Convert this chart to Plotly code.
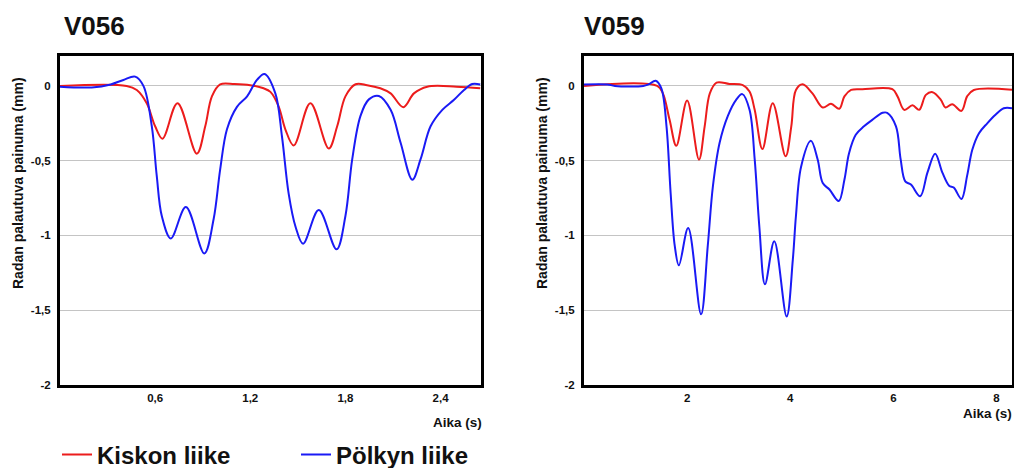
import plotly.graph_objects as go

# ---------------- data ----------------
# V056 (left panel)
v056_kisko_t = [0, 0.42, 0.484, 0.547, 0.60, 0.646, 0.741, 0.863, 0.916, 0.958, 1.01, 1.10, 1.20,
                1.284, 1.327, 1.379, 1.421, 1.474, 1.579, 1.695, 1.748, 1.80, 1.864, 1.937, 2.02,
                2.085, 2.165, 2.232, 2.316, 2.50, 2.65]
v056_kisko_y = [0, 0, -0.027, -0.116, -0.27, -0.353, -0.116, -0.453, -0.27, -0.07, 0.01, 0.012, 0.005,
                -0.016, -0.04, -0.138, -0.29, -0.398, -0.116, -0.418, -0.27, -0.07, 0.011, 0.005, -0.016,
                -0.05, -0.142, -0.05, -0.005, -0.005, -0.016]

v056_polkky_t = [0, 0.2, 0.32, 0.40, 0.474, 0.526, 0.579, 0.61, 0.642, 0.699, 0.794, 0.91, 0.969,
                 1.01, 1.053, 1.116, 1.18, 1.242, 1.29, 1.358, 1.40, 1.442, 1.485, 1.533, 1.632,
                 1.744, 1.80, 1.843, 1.895, 1.948, 2.011, 2.085, 2.148, 2.222, 2.274, 2.337, 2.411,
                 2.485, 2.548, 2.60, 2.65]
v056_polkky_y = [-0.005, -0.01, 0.01, 0.04, 0.062, 0.0, -0.27, -0.60, -0.87, -1.02, -0.81, -1.12, -0.89,
                 -0.56, -0.29, -0.14, -0.07, 0.04, 0.08, -0.05, -0.34, -0.72, -0.94, -1.055, -0.83,
                 -1.093, -0.87, -0.49, -0.20, -0.09, -0.067, -0.16, -0.38, -0.627, -0.49, -0.27, -0.16,
                 -0.093, -0.027, 0.013, 0.01]

# V059 (right panel)
v059_kisko_t = [0, 1.42, 1.53, 1.66, 1.79, 2.00, 2.23, 2.34, 2.44, 2.57, 2.82, 3.08, 3.21, 3.31, 3.46,
                3.66, 3.91, 4.02, 4.11, 4.24, 4.43, 4.63, 4.79, 4.95, 5.05, 5.18, 5.40, 5.98, 6.08,
                6.21, 6.37, 6.50, 6.63, 6.76, 6.92, 7.01, 7.14, 7.32, 7.43, 7.56, 8.30]
v059_kisko_y = [0, 0, -0.05, -0.227, -0.40, -0.098, -0.493, -0.27, -0.05, 0.022, 0.013, 0.005, -0.038,
                -0.16, -0.422, -0.116, -0.471, -0.27, -0.027, 0.011, -0.05, -0.144, -0.12, -0.153,
                -0.07, -0.027, -0.022, -0.022, -0.07, -0.16, -0.13, -0.16, -0.06, -0.042, -0.093,
                -0.144, -0.122, -0.167, -0.07, -0.027, -0.025]

v059_polkky_t = [0, 0.45, 0.6, 1.15, 1.25, 1.39, 1.50, 1.60, 1.68, 1.76, 1.84, 2.02, 2.27, 2.40, 2.50,
                 2.63, 2.79, 2.95, 3.07, 3.21, 3.31, 3.40, 3.51, 3.69, 3.93, 4.05, 4.11, 4.21, 4.40,
                 4.53, 4.63, 4.76, 4.94, 5.05, 5.14, 5.27, 5.43, 5.59, 5.79, 5.88, 6.05, 6.14, 6.23,
                 6.34, 6.52, 6.66, 6.81, 6.95, 7.08, 7.17, 7.32, 7.43, 7.53, 7.66, 7.82, 7.98, 8.14, 8.30]
v059_polkky_y = [0.01, 0.01, 0.0, 0.0, 0.01, 0.035, -0.016, -0.27, -0.716, -1.07, -1.20, -0.95, -1.527,
                 -1.07, -0.67, -0.38, -0.20, -0.093, -0.055, -0.16, -0.49, -0.94, -1.327, -1.038,
                 -1.542, -1.16, -0.87, -0.54, -0.367, -0.49, -0.65, -0.693, -0.77, -0.627, -0.45,
                 -0.327, -0.27, -0.227, -0.18, -0.18, -0.27, -0.49, -0.638, -0.66, -0.738, -0.58,
                 -0.453, -0.58, -0.667, -0.68, -0.756, -0.60, -0.427, -0.316, -0.25, -0.193, -0.149,
                 -0.149]

series_names = ["Kiskon liike", "Pölkyn liike"]
panel_titles = ["V056", "V059"]
y_axis_title = "Radan palautuva painuma (mm)"
x_axis_title = "Aika (s)"

y_tickvals = [0, -0.5, -1, -1.5, -2]
y_ticktext = ["0", "-0,5", "-1", "-1,5", "-2"]
x1_tickvals = [0.6, 1.2, 1.8, 2.4]
x1_ticktext = ["0,6", "1,2", "1,8", "2,4"]
x2_tickvals = [2, 4, 6, 8]
x2_ticktext = ["2", "4", "6", "8"]

# ---------------- layout helpers ----------------
W, H = 1014, 468
RED = "#ec1c1c"
BLUE = "#1a1af5"
FONT = "Liberation Sans, Arial, sans-serif"


def px_x(p):
    return p / W


def px_y(p):
    return 1 - p / H


fig = go.Figure()

line_kw = dict(mode="lines", line_shape="spline", hoverinfo="skip")

fig.add_trace(go.Scatter(x=v056_kisko_t, y=v056_kisko_y, name=series_names[0],
                         line=dict(color=RED, width=2, smoothing=1.0), xaxis="x", yaxis="y",
                         legend="legend", showlegend=True, **line_kw))
fig.add_trace(go.Scatter(x=v056_polkky_t, y=v056_polkky_y, name=series_names[1],
                         line=dict(color=BLUE, width=2, smoothing=1.0), xaxis="x", yaxis="y",
                         legend="legend2", showlegend=True, **line_kw))
fig.add_trace(go.Scatter(x=v059_kisko_t, y=v059_kisko_y, name=series_names[0],
                         line=dict(color=RED, width=2, smoothing=1.0), xaxis="x2", yaxis="y2",
                         showlegend=False, **line_kw))
fig.add_trace(go.Scatter(x=v059_polkky_t, y=v059_polkky_y, name=series_names[1],
                         line=dict(color=BLUE, width=2, smoothing=1.0), xaxis="x2", yaxis="y2",
                         showlegend=False, **line_kw))

tick_font = dict(family=FONT, size=11.5, color="#111111", weight="bold")
frame = dict(showline=True, mirror=True, linewidth=3, linecolor="black", zeroline=False,
             ticks="", fixedrange=True)

y_dom = [px_y(385), px_y(56)]

fig.update_layout(
    width=W, height=H,
    margin=dict(l=0, r=0, t=0, b=0, autoexpand=False),
    paper_bgcolor="white", plot_bgcolor="white",
    font=dict(family=FONT, color="#111111"),
    xaxis=dict(domain=[px_x(60), px_x(481)], range=[0, 2.655], tickvals=x1_tickvals,
               ticktext=x1_ticktext, tickfont=tick_font, showgrid=False, anchor="y", **frame),
    yaxis=dict(domain=y_dom, range=[-2, 0.2], tickvals=y_tickvals, ticktext=y_ticktext,
               tickfont=tick_font, showgrid=True, gridcolor="#c4c4c4", gridwidth=1,
               anchor="x", ticklabelstandoff=4, **frame),
    xaxis2=dict(domain=[px_x(584), px_x(1012)], range=[0, 8.3], tickvals=x2_tickvals,
                ticktext=x2_ticktext, tickfont=tick_font, showgrid=False, anchor="y2", **frame),
    yaxis2=dict(domain=y_dom, range=[-2, 0.2], tickvals=y_tickvals, ticktext=y_ticktext,
                tickfont=tick_font, showgrid=True, gridcolor="#c4c4c4", gridwidth=1,
                anchor="x2", ticklabelstandoff=4, **frame),
    legend=dict(orientation="h", x=px_x(57), xanchor="left", y=px_y(455), yanchor="middle",
                font=dict(family=FONT, size=24, color="#111111", weight="bold"),
                bgcolor="rgba(0,0,0,0)", itemwidth=30),
    legend2=dict(orientation="h", x=px_x(296), xanchor="left", y=px_y(455), yanchor="middle",
                 font=dict(family=FONT, size=24, color="#111111", weight="bold"),
                 bgcolor="rgba(0,0,0,0)", itemwidth=30),
    showlegend=True,
)

title_font = dict(family=FONT, size=26, color="#111111", weight="bold")
axis_title_font = dict(family=FONT, size=14, color="#111111", weight="bold")
xt_font = dict(family=FONT, size=13.5, color="#111111", weight="bold")

annotations = [
    dict(text=panel_titles[0], x=px_x(62), y=px_y(26), xanchor="left", yanchor="middle",
         font=title_font),
    dict(text=panel_titles[1], x=px_x(582), y=px_y(26), xanchor="left", yanchor="middle",
         font=title_font),
    dict(text=y_axis_title, x=px_x(18), y=px_y(183), xanchor="center", yanchor="middle",
         textangle=-90, font=axis_title_font),
    dict(text=y_axis_title, x=px_x(542), y=px_y(183), xanchor="center", yanchor="middle",
         textangle=-90, font=axis_title_font),
    dict(text=x_axis_title, x=px_x(484), y=px_y(422), xanchor="right", yanchor="middle",
         font=xt_font),
    dict(text=x_axis_title, x=px_x(1014), y=px_y(413), xanchor="right", yanchor="middle",
         font=xt_font),
]
for a in annotations:
    a.update(xref="paper", yref="paper", showarrow=False)
fig.update_layout(annotations=annotations)

fig.write_html("out.html", config={"displayModeBar": False})
